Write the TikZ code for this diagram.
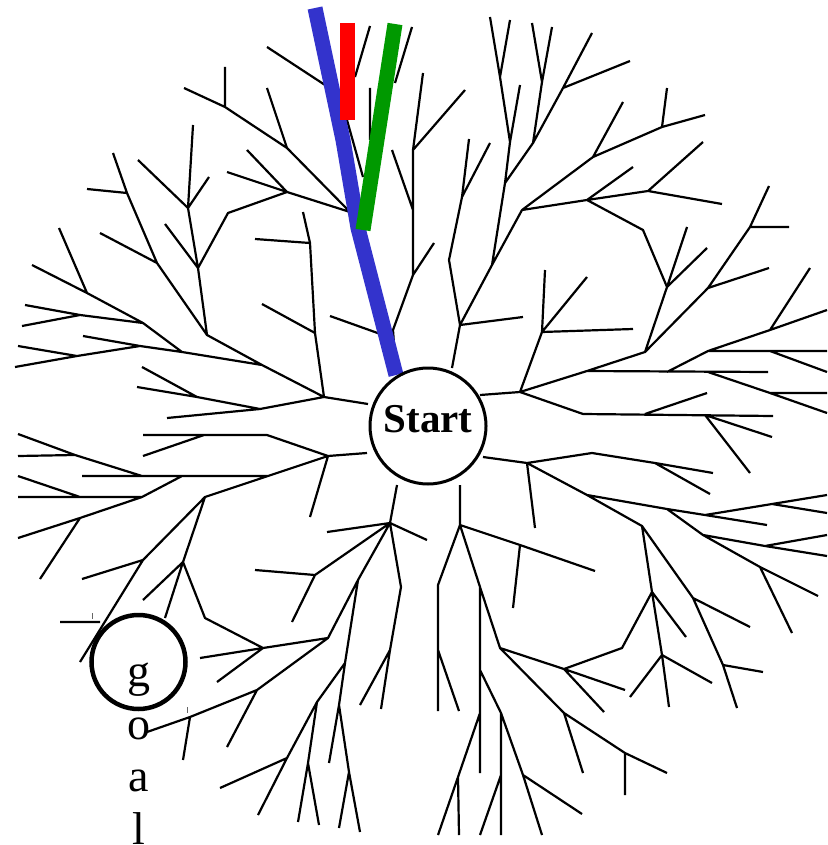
\documentclass[tikz,border=0pt]{standalone}
\usepackage{fontspec}
\setmainfont{Liberation Serif}
\definecolor{routeblue}{RGB}{51,51,204}
\definecolor{routegreen}{RGB}{0,153,0}
\definecolor{routered}{RGB}{255,0,0}
\begin{document}
\begin{tikzpicture}[x=1pt, y=-1pt,
                    branch/.style={draw=black, line width=2.2pt},
                    tick/.style={draw=black!60, line width=0.8pt},
                    route/.style={line width=15pt},
                    startnode/.style={circle, draw, line width=3pt, fill=white, minimum size=116pt,
                                      inner sep=0pt, text depth=14pt, font=\bfseries\fontsize{41}{48}\selectfont},
                    goalnode/.style={circle, draw, line width=4.5pt, fill=white, minimum size=94pt},
                    goaltext/.style={align=center, inner sep=0pt, font=\fontsize{46}{52.5}\selectfont}]
  \useasboundingbox (0,0) rectangle (827,845);
  % upper left
  \draw[branch]
    (368,404) -- (324,397) -- (315,333) -- (310,243) -- (303,212)
    (310,243) -- (255,239)
    (315,333) -- (262,304)
    (324,397) -- (262,365) -- (207,335) -- (198,268) -- (188,208) -- (193,125)
    (188,208) -- (138,160)
    (188,208) -- (209,177)
    (198,268) -- (165,224)
    (198,268) -- (228,213) -- (287,192) -- (350,212)
    (287,192) -- (227,172)
    (287,192) -- (247,150)
    (350,212) -- (287,148) -- (225,107) -- (184,88)
    (287,148) -- (267,88)
    (225,107) -- (225,67)
    (267,47) -- (325,85)
    (207,335) -- (157,263) -- (127,193) -- (113,153)
    (157,263) -- (100,233)
    (127,193) -- (87,189)
    (262,365) -- (182,352) -- (143,323) -- (87,293) -- (32,265)
    (87,293) -- (59,228)
    (143,323) -- (80,315) -- (25,305)
    (80,315) -- (22,326)
    (182,352) -- (140,346) -- (83,336)
    (140,346) -- (77,356) -- (18,346)
    (77,356) -- (15,367)
    (324,397) -- (260,409) -- (167,418)
    (260,409) -- (197,397) -- (137,387)
    (197,397) -- (142,367)
    (370,26) -- (355,77)
    (370,88) -- (370,140)
    (347,120) -- (363,177)
    (412,27) -- (395,83)
    (386,336) -- (330,316)
    (396,372) -- (393,330) -- (413,275) -- (413,150) -- (423,73)
    (413,150) -- (465,90)
    (413,210) -- (392,150)
    (413,275) -- (434,243);
  % upper right
  \draw[branch]
    (452,368) -- (460,325) -- (523,317)
    (460,325) -- (449,260) -- (462,197) -- (469,139)
    (462,197) -- (490,143)
    (460,325) -- (492,265) -- (522,210)
    (492,265) -- (505,183) -- (510,142) -- (500,77) -- (490,17)
    (500,77) -- (510,20)
    (510,142) -- (520,85)
    (505,183) -- (533,143) -- (542,82) -- (532,23)
    (542,82) -- (552,27)
    (533,143) -- (563,88) -- (592,33)
    (563,88) -- (630,61)
    (522,210) -- (593,157) -- (623,102)
    (593,157) -- (662,127) -- (667,88)
    (662,127) -- (705,115)
    (522,210) -- (587,200) -- (633,167)
    (587,200) -- (648,191) -- (703,142)
    (648,191) -- (722,204)
    (587,200) -- (643,230) -- (667,287) -- (687,227)
    (667,287) -- (707,248)
    (667,287) -- (645,352)
    (480,395) -- (520,392) -- (542,332) -- (545,270)
    (542,332) -- (587,277)
    (542,332) -- (633,329)
    (520,392) -- (587,371) -- (645,352) -- (708,288) -- (750,227) -- (769,186)
    (750,227) -- (789,227)
    (708,288) -- (769,268)
    (587,371) -- (768,372)
    (667,372) -- (708,351) -- (770,330) -- (827,310)
    (770,330) -- (810,268)
    (708,351) -- (827,351)
    (770,351) -- (827,372)
    (708,372) -- (770,393) -- (827,393)
    (770,393) -- (827,413)
    (520,392) -- (583,414) -- (773,416)
    (645,414) -- (707,393)
    (705,415) -- (772,437)
    (705,415) -- (750,473);
  % lower right
  \draw[branch]
    (483,457) -- (527,463) -- (592,453) -- (655,463) -- (713,473)
    (655,463) -- (710,494)
    (527,463) -- (535,528)
    (527,463) -- (587,495) -- (667,509) -- (705,515) -- (772,504) -- (827,495)
    (772,504) -- (827,513)
    (705,515) -- (767,525)
    (667,509) -- (703,535) -- (765,546) -- (827,535)
    (765,546) -- (827,556)
    (703,535) -- (760,567) -- (818,596)
    (760,567) -- (792,633)
    (587,495) -- (642,526) -- (652,592) -- (662,655) -- (669,707)
    (652,592) -- (686,637)
    (662,655) -- (712,683)
    (662,655) -- (630,697)
    (652,592) -- (622,648) -- (564,669)
    (642,526) -- (693,598) -- (750,627)
    (693,598) -- (723,665) -- (737,708)
    (723,665) -- (763,672)
    (460,485) -- (460,525) -- (520,545) -- (595,571)
    (520,545) -- (513,608)
    (460,525) -- (438,585) -- (438,711)
    (438,650) -- (459,711)
    (460,525) -- (480,587) -- (500,648) -- (564,669) -- (625,690)
    (564,669) -- (604,712)
    (500,648) -- (564,713) -- (625,753) -- (667,773)
    (625,753) -- (625,795)
    (564,713) -- (583,773)
    (480,587) -- (480,773)
    (480,670) -- (501,713) -- (523,775) -- (542,835)
    (523,775) -- (582,814)
    (501,713) -- (501,835)
    (501,775) -- (480,835)
    (480,713) -- (458,777) -- (438,835)
    (458,777) -- (459,835);
  % lower left
  \draw[branch]
    (367,453) -- (328,456) -- (267,435) -- (143,435)
    (204,435) -- (143,456)
    (328,456) -- (310,517)
    (328,456) -- (268,476) -- (82,476)
    (182,476) -- (142,497) -- (18,497)
    (80,497) -- (18,476)
    (142,476) -- (75,455) -- (18,434)
    (75,455) -- (18,456)
    (142,497) -- (80,518) -- (18,538)
    (80,518) -- (40,579)
    (268,476) -- (205,497) -- (143,560) -- (82,579)
    (143,560) -- (80,662)
    (60,622) -- (100,622)
    (205,497) -- (183,562) -- (143,600)
    (183,562) -- (165,618)
    (183,562) -- (205,618) -- (263,648) -- (328,638)
    (263,648) -- (200,658)
    (263,648) -- (217,682)
    (397,485) -- (390,523) -- (327,532)
    (390,523) -- (427,540)
    (390,523) -- (315,575) -- (255,570)
    (315,575) -- (292,622)
    (390,523) -- (358,580) -- (328,638) -- (257,690) -- (190,717) -- (147,732)
    (257,690) -- (227,747)
    (190,717) -- (183,760)
    (358,580) -- (345,663) -- (317,702) -- (287,758) -- (258,815)
    (287,758) -- (220,788)
    (317,702) -- (308,763) -- (298,822)
    (308,763) -- (319,825)
    (345,663) -- (339,705) -- (329,763)
    (339,705) -- (349,772) -- (339,828)
    (349,772) -- (360,832)
    (390,523) -- (401,587) -- (390,650) -- (360,705)
    (390,650) -- (381,709);
  \draw[tick] (92,613) -- (92,619) (187,707) -- (187,713);
  % routes
  \draw[route, routeblue] (315,8) -- (343,140) -- (358,228) -- (396,375);
  \draw[route, routered] (347,23) -- (347,120);
  \draw[route, routegreen] (363,230) -- (395,24);
  \node[startnode](start) at (428,426) {Start};
  \node[goalnode](goal) at (138.5,662) {};
  \node[goaltext, anchor=north](goalword) at ([yshift=-1pt]goal.center) {g\\o\\a\\l};
\end{tikzpicture}
\end{document}
